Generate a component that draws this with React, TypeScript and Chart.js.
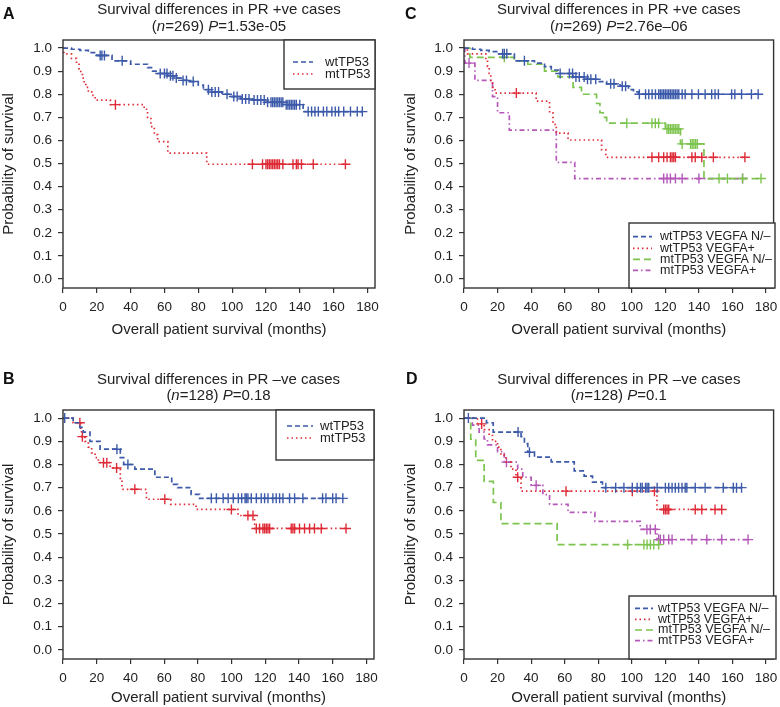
import React, { useEffect, useRef } from "react";
import { Chart, registerables } from "chart.js";
Chart.register(...registerables);

const FONT = '"Liberation Sans", Arial, Helvetica, sans-serif';
const TEXT = "#222";
const AXIS = "#333";

const BLUE = "#3c5aa9";
const RED = "#de2b37";
const GREEN = "#7dc44f";
const PURPLE = "#b559b9";

const xTicks = [0, 20, 40, 60, 80, 100, 120, 140, 160, 180];
const yTicks = [0, 0.1, 0.2, 0.3, 0.4, 0.5, 0.6, 0.7, 0.8, 0.9, 1.0];

// ---------- Panel A: PR +ve, TP53 ----------
const aWtTime = [0, 5, 10, 15, 20, 29, 40, 50, 53, 56, 62, 66, 70, 75, 80, 83, 88, 94, 99, 105, 112, 120, 131, 142];
const aWtSurv = [1.0, 0.995, 0.99, 0.98, 0.968, 0.945, 0.93, 0.915, 0.9, 0.89, 0.88, 0.87, 0.86, 0.855, 0.84, 0.82, 0.81, 0.8, 0.79, 0.78, 0.775, 0.765, 0.755, 0.725];
const aWtCens = [22, 23, 24.5, 35, 57.5, 60, 61.5, 63.5, 65, 67, 71, 73, 77, 86, 88, 90, 92, 97, 101, 103, 106, 108, 110, 113, 115, 117, 119, 121, 123, 124, 125, 126, 127, 128, 129, 130, 132, 133, 134, 135, 136, 137, 138, 140, 145, 147, 149, 151, 154, 156, 159, 161, 163, 166, 170, 174, 177];
const aMtTime = [0, 0.5, 5, 8, 9.5, 10.5, 11.5, 12.5, 13.5, 15, 17, 19, 28, 48, 50, 52, 54, 56, 62, 85];
const aMtSurv = [1.0, 0.975, 0.955, 0.935, 0.91, 0.89, 0.87, 0.85, 0.83, 0.81, 0.795, 0.775, 0.755, 0.735, 0.7, 0.66, 0.625, 0.595, 0.545, 0.497];
const aMtCens = [31, 112, 118, 120, 121, 122, 123, 124, 125, 126, 127, 128, 130, 136, 138, 139, 141, 148, 167];

// ---------- Panel B: PR -ve, TP53 ----------
const bWtTime = [0, 6, 10, 12, 16, 22, 34, 36, 42.6, 54.5, 64.5, 68, 76, 81];
const bWtSurv = [1.0, 0.98, 0.96, 0.94, 0.9, 0.866, 0.83, 0.8, 0.78, 0.745, 0.714, 0.7, 0.671, 0.654];
const bWtCens = [1, 32, 38.5, 88, 91, 95, 98, 101, 104, 106, 108, 108.7, 109.7, 111.7, 114.7, 117.6, 119.6, 121.6, 124.5, 126.5, 128.5, 130.5, 134.4, 137.4, 142.3, 154, 156, 160, 162, 166];
const bMtTime = [0, 6, 10.5, 11, 13, 15, 17, 19, 21, 28, 34, 35, 49.5, 64, 79, 103.8, 113.7];
const bMtSurv = [1.0, 0.98, 0.95, 0.92, 0.9, 0.875, 0.85, 0.83, 0.808, 0.785, 0.74, 0.693, 0.65, 0.628, 0.606, 0.58, 0.524];
const bMtCens = [10, 11.5, 24, 26, 31.8, 42.6, 60.4, 99.9, 109.7, 112.7, 114.7, 116.6, 118.6, 119.6, 120.6, 121.6, 122.6, 135.4, 136.4, 137.4, 140.3, 143.3, 146.3, 149.2, 153.2, 167.9];

// ---------- Panel C: PR +ve, TP53 x VEGFA ----------
const cWtNTime = [0, 5, 10, 15, 20, 30, 42, 48, 52, 56, 65, 72, 80, 85, 93, 98, 101, 104];
const cWtNSurv = [1.0, 0.995, 0.99, 0.985, 0.975, 0.945, 0.935, 0.92, 0.905, 0.89, 0.875, 0.865, 0.855, 0.845, 0.835, 0.82, 0.81, 0.8];
const cWtNCens = [23, 24, 25.5, 36, 57.3, 62.8, 64.7, 66.7, 68.7, 71.6, 73.6, 75.6, 78.5, 87.4, 89.4, 94.3, 96.3, 104.5, 108.2, 110.1, 112.1, 114.1, 116, 117, 118, 119, 120, 121, 122, 123, 124, 125, 126, 127, 128, 130, 131.8, 135.8, 139.7, 143.7, 147.6, 149.6, 151.6, 159.5, 161.4, 165.4, 171.3, 175.3];
const cWtPTime = [0, 2, 13, 14, 15, 16, 17, 18.5, 43, 51, 53, 55, 62, 82, 84.5];
const cWtPSurv = [1.0, 0.975, 0.95, 0.92, 0.89, 0.86, 0.83, 0.805, 0.77, 0.72, 0.67, 0.632, 0.602, 0.56, 0.527];
const cWtPCens = [31.2, 112, 116, 119, 121, 123, 124, 125, 126, 135.8, 137.8, 141.7, 148.6, 167.4];
const cMtNTime = [0, 3.5, 30, 38, 48, 56, 65, 70, 79, 81, 83, 85, 120, 129, 143];
const cMtNSurv = [1.0, 0.96, 0.945, 0.93, 0.9, 0.875, 0.83, 0.8, 0.76, 0.72, 0.7, 0.675, 0.65, 0.585, 0.435];
const cMtNCens = [24, 97, 112, 114, 116, 121, 122, 123, 124, 125, 126, 127, 128, 130, 135, 136, 137, 138, 139, 152, 157, 166, 177];
const cMtPTime = [0, 0.5, 6.5, 17, 20, 27, 55, 66];
const cMtPSurv = [1.0, 0.935, 0.86, 0.79, 0.72, 0.645, 0.505, 0.435];
const cMtPCens = [3, 119, 121, 123, 126, 130, 140, 166];

// ---------- Panel D: PR -ve, TP53 x VEGFA ----------
const dWtNTime = [0, 13.4, 17.4, 34, 36, 38, 42, 52, 65.7, 71.6, 76.6, 82.5];
const dWtNSurv = [1.0, 0.98, 0.94, 0.92, 0.89, 0.853, 0.832, 0.811, 0.772, 0.75, 0.724, 0.7];
const dWtNCens = [2.6, 32.2, 39, 84.5, 90.4, 95.3, 100.3, 103.2, 105.2, 106.2, 108.2, 109.1, 110.1, 115.1, 120, 122, 124, 125.9, 127.9, 129.9, 131.8, 132.8, 137.8, 143.7, 154.5, 160.5, 162.4, 165.4];
const dWtPTime = [0, 8, 12, 15, 17, 20, 22, 25, 28, 31, 34, 115];
const dWtPSurv = [1.0, 0.975, 0.95, 0.925, 0.9, 0.875, 0.84, 0.81, 0.78, 0.745, 0.685, 0.606];
const dWtPCens = [10.5, 32, 60.8, 100.3, 113.5, 119, 120, 121, 122, 137.8, 141.7, 149.6, 153.6];
const dMtNTime = [0, 4, 7, 12, 17.5, 22, 55.5];
const dMtNSurv = [1.0, 0.909, 0.818, 0.727, 0.636, 0.545, 0.4545];
const dMtNCens = [97.5, 107.2, 109.1, 111.1, 113.1, 116];
const dMtPTime = [0, 5, 9, 12, 14, 20, 24, 32, 35, 40, 47, 51, 62, 78, 105, 115];
const dMtPSurv = [1.0, 0.97, 0.94, 0.91, 0.885, 0.855, 0.81, 0.78, 0.745, 0.71, 0.67, 0.628, 0.593, 0.555, 0.52, 0.476];
const dMtPCens = [25.3, 43, 109, 111, 114, 116, 117, 119, 122, 124, 135.8, 144.7, 153.6, 169.3];

const DASH_BLUE = [5, 3];
const DASH_RED = [1.5, 3];
const DASH_GREEN = [7, 4];
const DASH_PURPLE = [5, 3, 1.5, 3];

type Series = { label: string; color: string; dash: number[]; time: number[]; surv: number[]; cens: number[] };

function stepAt(time: number[], surv: number[], t: number) {
  let v = surv[0];
  for (let i = 0; i < time.length; i++) if (time[i] <= t) v = surv[i];
  return v;
}

function buildDatasets(series: Series[]) {
  const ds: any[] = [];
  for (const s of series) {
    const pts = s.time.map((t, i) => ({ x: t, y: s.surv[i] }));
    const lastT = s.time[s.time.length - 1];
    const end = Math.max(lastT, ...s.cens);
    if (end > lastT) pts.push({ x: end, y: s.surv[s.surv.length - 1] });
    ds.push({
      label: s.label,
      data: pts,
      borderColor: s.color,
      borderWidth: 1.7,
      borderDash: s.dash,
      stepped: "before",
      pointRadius: 0,
      fill: false,
      tension: 0,
    });
    ds.push({
      label: s.label + " (censored)",
      data: s.cens.map((t) => ({ x: t, y: stepAt(s.time, s.surv, t) })),
      showLine: false,
      pointStyle: "cross",
      pointRadius: 5,
      pointBorderWidth: 1.4,
      borderColor: s.color,
      backgroundColor: s.color,
    });
  }
  return ds;
}

const decor = {
  id: "panelDecor",
  afterDraw(chart: any, _a: any, o: any) {
    const ctx = chart.ctx;
    const ca = chart.chartArea;
    ctx.save();
    ctx.setLineDash([]);
    ctx.strokeStyle = AXIS;
    ctx.lineWidth = 1.4;
    ctx.strokeRect(ca.left, ca.top, ca.right - ca.left, ca.bottom - ca.top);

    ctx.fillStyle = "#111";
    ctx.textAlign = "left";
    ctx.textBaseline = "alphabetic";
    ctx.font = `bold 16px ${FONT}`;
    ctx.fillText(o.letter, o.letterX, o.letterY);

    const cx = (ca.left + ca.right) / 2;
    ctx.fillStyle = TEXT;
    ctx.font = `15px ${FONT}`;
    ctx.textAlign = "center";
    ctx.fillText(o.title, cx, o.titleY1);
    ctx.textAlign = "left";
    let total = 0;
    for (const s of o.sub) {
      ctx.font = `${s[1] ? "italic " : ""}15px ${FONT}`;
      total += ctx.measureText(s[0]).width;
    }
    let x = cx - total / 2;
    for (const s of o.sub) {
      ctx.font = `${s[1] ? "italic " : ""}15px ${FONT}`;
      ctx.fillText(s[0], x, o.titleY2);
      x += ctx.measureText(s[0]).width;
    }

    const L = o.legend;
    ctx.fillStyle = "#fff";
    ctx.fillRect(L.x1, L.y1, L.x2 - L.x1, L.y2 - L.y1);
    ctx.strokeStyle = AXIS;
    ctx.lineWidth = 1.4;
    ctx.strokeRect(L.x1, L.y1, L.x2 - L.x1, L.y2 - L.y1);
    o.series.forEach((s: Series, i: number) => {
      const y = L.rows[i];
      ctx.strokeStyle = s.color;
      ctx.lineWidth = 1.7;
      ctx.setLineDash(s.dash);
      ctx.beginPath();
      ctx.moveTo(L.lx1, y);
      ctx.lineTo(L.lx2, y);
      ctx.stroke();
      ctx.setLineDash([]);
      ctx.fillStyle = TEXT;
      ctx.font = `${L.fs}px ${FONT}`;
      ctx.textBaseline = "middle";
      ctx.fillText(s.label, L.tx, y);
    });
    ctx.restore();
  },
};

const seriesA: Series[] = [
  { label: "wtTP53", color: BLUE, dash: DASH_BLUE, time: aWtTime, surv: aWtSurv, cens: aWtCens },
  { label: "mtTP53", color: RED, dash: DASH_RED, time: aMtTime, surv: aMtSurv, cens: aMtCens },
];
const seriesB: Series[] = [
  { label: "wtTP53", color: BLUE, dash: DASH_BLUE, time: bWtTime, surv: bWtSurv, cens: bWtCens },
  { label: "mtTP53", color: RED, dash: DASH_RED, time: bMtTime, surv: bMtSurv, cens: bMtCens },
];
const seriesC: Series[] = [
  { label: "wtTP53 VEGFA N/\u2013", color: BLUE, dash: DASH_BLUE, time: cWtNTime, surv: cWtNSurv, cens: cWtNCens },
  { label: "wtTP53 VEGFA+", color: RED, dash: DASH_RED, time: cWtPTime, surv: cWtPSurv, cens: cWtPCens },
  { label: "mtTP53 VEGFA N/\u2013", color: GREEN, dash: DASH_GREEN, time: cMtNTime, surv: cMtNSurv, cens: cMtNCens },
  { label: "mtTP53 VEGFA+", color: PURPLE, dash: DASH_PURPLE, time: cMtPTime, surv: cMtPSurv, cens: cMtPCens },
];
const seriesD: Series[] = [
  { label: "wtTP53 VEGFA N/\u2013", color: BLUE, dash: DASH_BLUE, time: dWtNTime, surv: dWtNSurv, cens: dWtNCens },
  { label: "wtTP53 VEGFA+", color: RED, dash: DASH_RED, time: dWtPTime, surv: dWtPSurv, cens: dWtPCens },
  { label: "mtTP53 VEGFA N/\u2013", color: GREEN, dash: DASH_GREEN, time: dMtNTime, surv: dMtNSurv, cens: dMtNCens },
  { label: "mtTP53 VEGFA+", color: PURPLE, dash: DASH_PURPLE, time: dMtPTime, surv: dMtPSurv, cens: dMtPCens },
];

const panels = [
  {
    key: "A", left: 0, top: 0, w: 390, h: 350, yW: 63, xH: 62, padTop: 40, padRight: 15, yTitlePad: 0, xTitlePad: 11,
    letter: "A", letterX: 3, letterY: 18.5, titleY1: 13.5, titleY2: 31,
    title: "Survival differences in PR +ve cases",
    sub: [["(", 0], ["n", 1], ["=269) ", 0], ["P", 1], ["=1.53e-05", 0]],
    series: seriesA,
    legend: { x1: 284, y1: 40, x2: 375, y2: 89, rows: [62, 74], lx1: 293, lx2: 313, tx: 325, fs: 13 },
  },
  {
    key: "C", left: 390, top: 0, w: 390, h: 350, yW: 74, xH: 62, padTop: 40, padRight: 5, yTitlePad: 12, xTitlePad: 11,
    letter: "C", letterX: 15, letterY: 18.5, titleY1: 13.5, titleY2: 31,
    title: "Survival differences in PR +ve cases",
    sub: [["(", 0], ["n", 1], ["=269) ", 0], ["P", 1], ["=2.76e\u201306", 0]],
    series: seriesC,
    legend: { x1: 239, y1: 223, x2: 385, y2: 288, rows: [236.7, 248.3, 259.3, 270.3], lx1: 243, lx2: 262, tx: 270, fs: 12.5 },
  },
  {
    key: "B", left: 0, top: 350, w: 390, h: 357, yW: 63, xH: 48, padTop: 60, padRight: 16, yTitlePad: 0, xTitlePad: 0,
    letter: "B", letterX: 3, letterY: 33.5, titleY1: 33.5, titleY2: 50,
    title: "Survival differences in PR \u2013ve cases",
    sub: [["(", 0], ["n", 1], ["=128) ", 0], ["P", 1], ["=0.18", 0]],
    series: seriesB,
    legend: { x1: 276, y1: 60, x2: 374, y2: 110, rows: [76, 88], lx1: 287, lx2: 313, tx: 320, fs: 13 },
  },
  {
    key: "D", left: 390, top: 350, w: 390, h: 357, yW: 74, xH: 48, padTop: 60, padRight: 4, yTitlePad: 12, xTitlePad: 0,
    letter: "D", letterX: 16, letterY: 33.5, titleY1: 33.5, titleY2: 50,
    title: "Survival differences in PR \u2013ve cases",
    sub: [["(", 0], ["n", 1], ["=128) ", 0], ["P", 1], ["=0.1", 0]],
    series: seriesD,
    legend: { x1: 239, y1: 246, x2: 386, y2: 309, rows: [258.3, 269.3, 280, 290.7], lx1: 245, lx2: 263, tx: 268, fs: 12.5 },
  },
];

function Panel({ cfg }: { cfg: any }) {
  const ref = useRef<HTMLCanvasElement>(null);
  useEffect(() => {
    const chart = new Chart(ref.current as HTMLCanvasElement, {
      type: "line",
      data: { datasets: buildDatasets(cfg.series) },
      options: {
        animation: false,
        responsive: false,
        devicePixelRatio: 1,
        events: [],
        layout: { padding: { left: 0, top: cfg.padTop, right: cfg.padRight, bottom: 0 } },
        plugins: {
          legend: { display: false },
          tooltip: { enabled: false },
          title: { display: false },
          panelDecor: cfg,
        } as any,
        scales: {
          x: {
            type: "linear",
            min: 0,
            max: 184.5,
            afterBuildTicks: (s: any) => {
              s.ticks = xTicks.map((v) => ({ value: v }));
            },
            afterFit: (s: any) => {
              s.height = cfg.xH;
              s.paddingLeft = 0;
              s.paddingRight = 0;
            },
            grid: { drawOnChartArea: false, drawTicks: true, tickLength: 5, color: AXIS, lineWidth: 1.2 },
            border: { display: false },
            ticks: {
              padding: 6,
              color: TEXT,
              font: { size: 13.5, family: FONT },
              maxRotation: 0,
              autoSkip: false,
              callback: (v: any) => String(v),
            },
            title: {
              display: true,
              text: "Overall patient survival (months)",
              color: TEXT,
              font: { size: 15, family: FONT },
              padding: { top: 0, bottom: cfg.xTitlePad },
            },
          },
          y: {
            type: "linear",
            min: -0.039,
            max: 1.035,
            afterBuildTicks: (s: any) => {
              s.ticks = yTicks.map((v) => ({ value: v }));
            },
            afterFit: (s: any) => {
              s.width = cfg.yW;
              s.paddingTop = 0;
              s.paddingBottom = 0;
            },
            grid: { drawOnChartArea: false, drawTicks: true, tickLength: 5, color: AXIS, lineWidth: 1.2 },
            border: { display: false },
            ticks: {
              padding: 6,
              color: TEXT,
              font: { size: 13.5, family: FONT },
              autoSkip: false,
              callback: (v: any) => Number(v).toFixed(1),
            },
            title: {
              display: true,
              text: "Probability of survival",
              color: TEXT,
              font: { size: 15, family: FONT },
              padding: { top: cfg.yTitlePad, bottom: 0 },
            },
          },
        },
      } as any,
      plugins: [decor as any],
    });
    return () => chart.destroy();
  }, []);
  return (
    <div style={{ position: "absolute", left: cfg.left, top: cfg.top, width: cfg.w, height: cfg.h }}>
      <canvas ref={ref} width={cfg.w} height={cfg.h} style={{ width: cfg.w, height: cfg.h, display: "block" }} />
    </div>
  );
}

export default function App() {
  return (
    <div style={{ position: "absolute", left: 0, top: 0, width: 780, height: 707, background: "#fff", overflow: "hidden" }}>
      {panels.map((p) => (
        <Panel key={p.key} cfg={p} />
      ))}
    </div>
  );
}
